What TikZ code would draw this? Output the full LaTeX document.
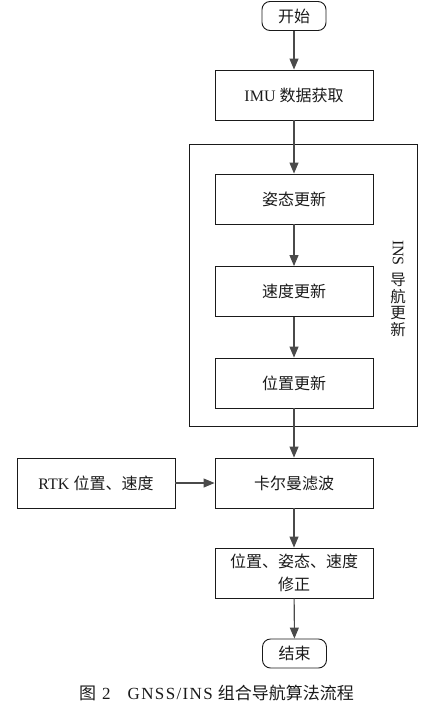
\documentclass[tikz,border=0pt]{standalone}
\usepackage{fontspec}
\setmainfont{Liberation Serif}
\newfontfamily\cjk{Noto Sans CJK SC}
\usetikzlibrary{arrows.meta,positioning}
\usepackage{xcolor}
\definecolor{Ink}{HTML}{1A1A1A}
\definecolor{Wire}{HTML}{4A4A4A}

\begin{document}
\begin{tikzpicture}[x=1pt,y=-1pt,>={Triangle[length=11pt,width=9pt]},
  stepbox/.style={draw=Ink,line width=0.9pt,minimum width=158pt,minimum height=50pt,inner sep=0pt,
    text=Ink,align=center,font=\fontsize{16}{23}\selectfont},
  termbox/.style={stepbox,rounded corners=8pt,minimum width=64pt,minimum height=29pt},
  flow/.style={->,Wire,line width=1.1pt}]
\useasboundingbox (0,0) rectangle (437,704);
% outer INS frame
\node[draw=Ink,line width=0.9pt,minimum width=228pt,minimum height=282pt,inner sep=0pt] (ins) at (303,285) {};
\node[rotate=-90,text=Ink,font=\fontsize{16}{18}\selectfont,inner sep=0pt] (insname) at (398,253) {INS};
\node[text=Ink,align=center,inner sep=0pt,font=\fontsize{15.5}{16.5}\selectfont\cjk] (inslabel) at (398,305) {导\\航\\更\\新};
% main flow
\node[termbox] (start) at (294,16) {\cjk 开始};
\node[stepbox] (imu) at (294,95) {IMU {\cjk 数据获取}};
\node[stepbox] (att) at (294,199) {\cjk 姿态更新};
\node[stepbox] (vel) at (294,291.5) {\cjk 速度更新};
\node[stepbox] (pos) at (294,383) {\cjk 位置更新};
\node[stepbox] (kf) at (294,483) {\cjk 卡尔曼滤波};
\node[stepbox] (rtk) at (96,483) {RTK {\cjk 位置、速度}};
\node[stepbox] (fix) at (294,573) {\cjk 位置、姿态、速度\\\cjk 修正};
\node[termbox] (stop) at (294.5,653.5) {\cjk 结束};
% connectors
\draw[flow] (start) -- (imu);
\draw[flow] (imu) -- (att);
\draw[flow] (att) -- (vel);
\draw[flow] (vel) -- (pos);
\draw[flow] (pos) -- (kf);
\draw[flow] (rtk) -- (kf);
\draw[flow] (kf) -- (fix);
\draw[flow] (fix) -- (stop);
% caption
\node[text=Ink,font=\fontsize{17}{20}\selectfont] (caption) at (216.5,693)
  {{\cjk 图}\hspace{6pt}2\hspace{17pt}{\addfontfeature{LetterSpace=8}GNSS/INS}\hspace{5pt}{\cjk 组合导航算法流程}};
\end{tikzpicture}
\end{document}
